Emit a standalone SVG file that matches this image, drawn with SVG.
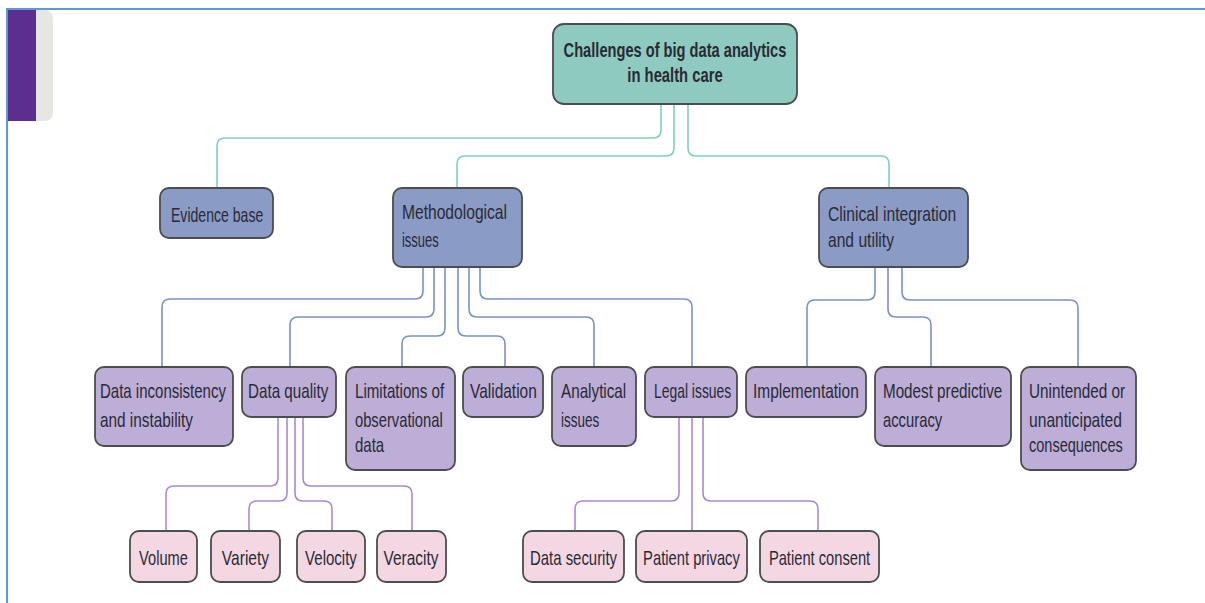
<svg xmlns="http://www.w3.org/2000/svg" width="1205" height="603" viewBox="0 0 1205 603">
  <style>
    .node rect { stroke: #4d4d4f; stroke-width: 1.8; }
    .root rect { fill: #8ecabf; }
    .l2 rect { fill: #8a9bc6; }
    .l3 rect { fill: #bcaed6; }
    .l4 rect { fill: #f3d8e4; }
    /* labels are set in a condensed cut: glyphs are squeezed horizontally by scale(.75 1),
       so x values and textLength are given in the squeezed coordinate system (÷ 0.75) */
    text { font-family: "Liberation Sans", Arial, sans-serif; font-size: 21px; fill: #2a2a36; }
    .root text { font-weight: bold; font-size: 20px; }
    .l4 text { text-anchor: middle; }
    .conn path { fill: none; stroke-width: 1.6; }
    .teal path { stroke: #7fcfc1; }
    .blue path { stroke: #7b92c4; }
    .violet path { stroke: #a88ad3; }
  </style>

  <!-- page frame and side tab -->
  <g id="frame">
    <rect x="8" y="10" width="45" height="111" rx="8" fill="#e6e6e2"/>
    <rect x="8" y="10" width="20" height="111" fill="#e6e6e2"/>
    <rect x="8" y="10" width="28" height="111" fill="#5c2e8f"/>
    <line x1="6" y1="9" x2="1205" y2="9" stroke="#5b9bd5" stroke-width="2"/>
    <line x1="7" y1="9" x2="7" y2="603" stroke="#5b9bd5" stroke-width="2"/>
  </g>

  <!-- connectors -->
  <g id="connectors" class="conn">
    <g class="teal">
      <path d="M661,104 V130 Q661,138 653,138 H225 Q217,138 217,146 V188"/>
      <path d="M674,104 V148 Q674,156 666,156 H465 Q457,156 457,164 V188"/>
      <path d="M688,104 V148 Q688,156 696,156 H881 Q889,156 889,164 V188"/>
    </g>
    <g class="blue">
      <path d="M423,267 V291 Q423,299 415,299 H170 Q162,299 162,307 V367"/>
      <path d="M434,267 V309 Q434,317 426,317 H298 Q290,317 290,325 V367"/>
      <path d="M445,267 V328 Q445,336 437,336 H410 Q402,336 402,344 V367"/>
      <path d="M458,267 V328 Q458,336 466,336 H497 Q505,336 505,344 V367"/>
      <path d="M469,267 V309 Q469,317 477,317 H586 Q594,317 594,325 V367"/>
      <path d="M480,267 V291 Q480,299 488,299 H684 Q692,299 692,307 V367"/>
      <path d="M875,267 V292 Q875,300 867,300 H815 Q807,300 807,308 V367"/>
      <path d="M888,267 V309 Q888,317 896,317 H923 Q931,317 931,325 V367"/>
      <path d="M902,267 V292 Q902,300 910,300 H1070 Q1078,300 1078,308 V367"/>
    </g>
    <g class="violet">
      <path d="M278,417 V478 Q278,486 270,486 H174 Q166,486 166,494 V531"/>
      <path d="M287,417 V493 Q287,501 279,501 H257 Q249,501 249,509 V531"/>
      <path d="M295,417 V493 Q295,501 303,501 H324 Q332,501 332,509 V531"/>
      <path d="M303,417 V478 Q303,486 311,486 H404 Q412,486 412,494 V531"/>
      <path d="M679,417 V493 Q679,501 671,501 H583 Q575,501 575,509 V531"/>
      <path d="M692,417 V531"/>
      <path d="M703,417 V493 Q703,501 711,501 H810 Q818,501 818,509 V531"/>
    </g>
  </g>

  <!-- root -->
  <g id="root" class="node root">
    <rect x="553" y="24" width="244" height="80" rx="11"/>
    <text transform="scale(.75 1)" x="900" y="57" text-anchor="middle" textLength="297" lengthAdjust="spacingAndGlyphs">Challenges of big data analytics</text>
    <text transform="scale(.75 1)" x="900" y="82" text-anchor="middle" textLength="127" lengthAdjust="spacingAndGlyphs">in health care</text>
  </g>

  <!-- second level -->
  <g id="evidence-base" class="node l2">
    <rect x="160" y="188" width="113" height="50" rx="9"/>
    <text transform="scale(.75 1)" x="228" y="222" textLength="123" lengthAdjust="spacingAndGlyphs">Evidence base</text>
  </g>
  <g id="methodological-issues" class="node l2">
    <rect x="393" y="188" width="129" height="79" rx="9"/>
    <text transform="scale(.75 1)" x="536" y="219" textLength="140" lengthAdjust="spacingAndGlyphs">Methodological</text>
    <text transform="scale(.75 1)" x="536" y="247" textLength="49" lengthAdjust="spacingAndGlyphs">issues</text>
  </g>
  <g id="clinical-integration" class="node l2">
    <rect x="819" y="188" width="149" height="79" rx="9"/>
    <text transform="scale(.75 1)" x="1104" y="221" textLength="171" lengthAdjust="spacingAndGlyphs">Clinical integration</text>
    <text transform="scale(.75 1)" x="1104" y="247" textLength="88" lengthAdjust="spacingAndGlyphs">and utility</text>
  </g>

  <!-- third level -->
  <g id="data-inconsistency" class="node l3">
    <rect x="95" y="367" width="138" height="79" rx="9"/>
    <text transform="scale(.75 1)" x="133.3" y="398" textLength="168" lengthAdjust="spacingAndGlyphs">Data inconsistency</text>
    <text transform="scale(.75 1)" x="133.3" y="427" textLength="124" lengthAdjust="spacingAndGlyphs">and instability</text>
  </g>
  <g id="data-quality" class="node l3">
    <rect x="242" y="367" width="94" height="50" rx="9"/>
    <text transform="scale(.75 1)" x="330.7" y="398" textLength="107" lengthAdjust="spacingAndGlyphs">Data quality</text>
  </g>
  <g id="limitations" class="node l3">
    <rect x="346" y="367" width="109" height="103" rx="9"/>
    <text transform="scale(.75 1)" x="473.3" y="398" textLength="119" lengthAdjust="spacingAndGlyphs">Limitations of</text>
    <text transform="scale(.75 1)" x="473.3" y="427" textLength="117" lengthAdjust="spacingAndGlyphs">observational</text>
    <text transform="scale(.75 1)" x="473.3" y="452" textLength="39" lengthAdjust="spacingAndGlyphs">data</text>
  </g>
  <g id="validation" class="node l3">
    <rect x="463" y="367" width="80" height="50" rx="9"/>
    <text transform="scale(.75 1)" x="626.7" y="398" textLength="89" lengthAdjust="spacingAndGlyphs">Validation</text>
  </g>
  <g id="analytical-issues" class="node l3">
    <rect x="552" y="367" width="84" height="79" rx="9"/>
    <text transform="scale(.75 1)" x="748" y="398" textLength="87" lengthAdjust="spacingAndGlyphs">Analytical</text>
    <text transform="scale(.75 1)" x="748" y="427" textLength="51" lengthAdjust="spacingAndGlyphs">issues</text>
  </g>
  <g id="legal-issues" class="node l3">
    <rect x="645" y="367" width="92" height="50" rx="9"/>
    <text transform="scale(.75 1)" x="872" y="398" textLength="103" lengthAdjust="spacingAndGlyphs">Legal issues</text>
  </g>
  <g id="implementation" class="node l3">
    <rect x="746" y="367" width="120" height="50" rx="9"/>
    <text transform="scale(.75 1)" x="1004" y="398" textLength="141" lengthAdjust="spacingAndGlyphs">Implementation</text>
  </g>
  <g id="modest-accuracy" class="node l3">
    <rect x="875" y="367" width="136" height="79" rx="9"/>
    <text transform="scale(.75 1)" x="1177.3" y="398" textLength="159" lengthAdjust="spacingAndGlyphs">Modest predictive</text>
    <text transform="scale(.75 1)" x="1177.3" y="427" textLength="79" lengthAdjust="spacingAndGlyphs">accuracy</text>
  </g>
  <g id="unintended" class="node l3">
    <rect x="1021" y="367" width="115" height="103" rx="9"/>
    <text transform="scale(.75 1)" x="1372" y="398" textLength="128" lengthAdjust="spacingAndGlyphs">Unintended or</text>
    <text transform="scale(.75 1)" x="1372" y="427" textLength="124" lengthAdjust="spacingAndGlyphs">unanticipated</text>
    <text transform="scale(.75 1)" x="1372" y="452" textLength="125" lengthAdjust="spacingAndGlyphs">consequences</text>
  </g>

  <!-- fourth level -->
  <g id="volume" class="node l4">
    <rect x="130" y="531" width="67" height="51" rx="9"/>
    <text transform="scale(.75 1)" x="218" y="565" textLength="65" lengthAdjust="spacingAndGlyphs">Volume</text>
  </g>
  <g id="variety" class="node l4">
    <rect x="211" y="531" width="69" height="51" rx="9"/>
    <text transform="scale(.75 1)" x="327.3" y="565" textLength="63" lengthAdjust="spacingAndGlyphs">Variety</text>
  </g>
  <g id="velocity" class="node l4">
    <rect x="297" y="531" width="68" height="51" rx="9"/>
    <text transform="scale(.75 1)" x="441.3" y="565" textLength="69" lengthAdjust="spacingAndGlyphs">Velocity</text>
  </g>
  <g id="veracity" class="node l4">
    <rect x="377" y="531" width="69" height="51" rx="9"/>
    <text transform="scale(.75 1)" x="548" y="565" textLength="73" lengthAdjust="spacingAndGlyphs">Veracity</text>
  </g>
  <g id="data-security" class="node l4">
    <rect x="523" y="531" width="101" height="51" rx="9"/>
    <text transform="scale(.75 1)" x="764.7" y="565" textLength="116" lengthAdjust="spacingAndGlyphs">Data security</text>
  </g>
  <g id="patient-privacy" class="node l4">
    <rect x="636" y="531" width="111" height="51" rx="9"/>
    <text transform="scale(.75 1)" x="922" y="565" textLength="129" lengthAdjust="spacingAndGlyphs">Patient privacy</text>
  </g>
  <g id="patient-consent" class="node l4">
    <rect x="760" y="531" width="119" height="51" rx="9"/>
    <text transform="scale(.75 1)" x="1092.7" y="565" textLength="135" lengthAdjust="spacingAndGlyphs">Patient consent</text>
  </g>
</svg>
